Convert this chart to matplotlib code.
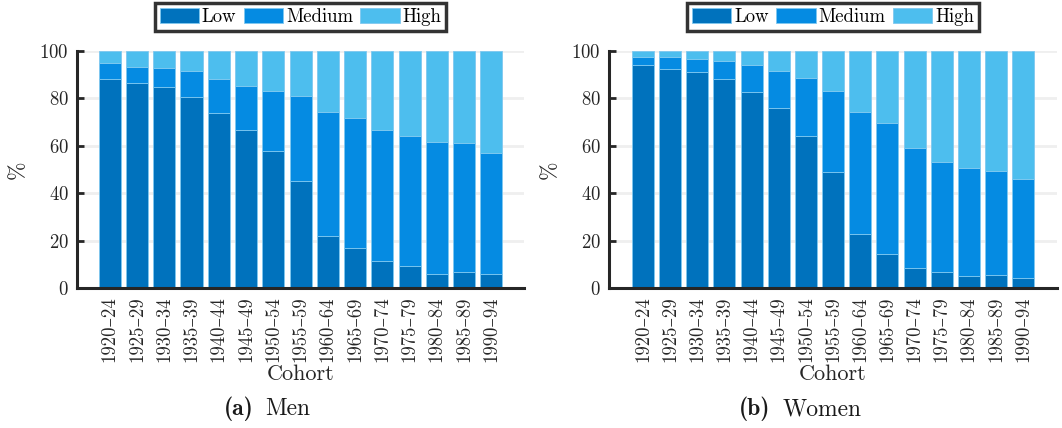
import matplotlib
matplotlib.use('Agg')
import matplotlib.pyplot as plt
import numpy as np

plt.rcParams['font.family'] = ['cmr10', 'DejaVu Serif']
plt.rcParams['mathtext.fontset'] = 'cm'
plt.rcParams['axes.formatter.use_mathtext'] = True

cohorts = ['1920–24', '1925–29', '1930–34', '1935–39', '1940–44', '1945–49', '1950–54',
           '1955–59', '1960–64', '1965–69', '1970–74', '1975–79', '1980–84', '1985–89', '1990–94']

# shares in %, Low / Medium / High
men_low = [88.2, 86.3, 84.8, 80.6, 73.8, 66.6, 57.7, 45.1, 22.1, 16.9, 11.3, 9.3, 5.8, 6.6, 5.8]
men_lowmed = [94.9, 93.1, 92.7, 91.4, 88.3, 85.1, 83.1, 80.8, 74.2, 71.8, 66.6, 64.2, 61.5, 61.0, 56.8]
women_low = [93.9, 92.4, 91.0, 88.3, 82.7, 75.8, 64.1, 49.0, 23.0, 14.5, 8.6, 6.6, 4.9, 5.4, 4.2]
women_lowmed = [97.5, 97.5, 96.5, 95.9, 94.1, 91.5, 88.6, 83.1, 74.2, 69.6, 59.0, 53.0, 50.7, 49.3, 45.9]

levels = ['Low', 'Medium', 'High']
colors = ['#0072BD', '#058BE2', '#4DBEEE']

W, H = 1062, 428
fig = plt.figure(figsize=(W / 100, H / 100), dpi=100)
axes = [fig.add_axes([0.0725, 0.327, 0.421, 0.554]),
        fig.add_axes([0.5734, 0.327, 0.422, 0.554])]
panels = [(men_low, men_lowmed, '(a)', 'Men', -1.2, 267),
          (women_low, women_lowmed, '(b)', 'Women', -1.25, 800)]

renderer = fig.canvas.get_renderer()

for ax, (low, lowmed, tag, name, xl, cx) in zip(axes, panels):
    low = np.array(low)
    med = np.array(lowmed) - low
    high = 100 - np.array(lowmed)
    x = np.arange(len(cohorts))
    bottom = np.zeros(len(cohorts))
    for vals, lab, c in zip([low, med, high], levels, colors):
        ax.bar(x, vals, bottom=bottom, width=0.81, color=c, edgecolor='#7fc8f0',
               linewidth=0.6, label=lab, zorder=3)
        bottom += vals
    ax.set_xlim(xl, len(cohorts) - 1 - xl)
    ax.set_ylim(0, 100)
    ax.set_yticks([0, 20, 40, 60, 80, 100])
    ax.set_xticks(x)
    ax.set_xticklabels(cohorts, rotation=90, fontsize=13.5)
    ax.tick_params(axis='y', direction='in', length=5, width=2, labelsize=13.5,
                   color='#262626', labelcolor='#262626', pad=6)
    ax.tick_params(axis='x', length=0, labelcolor='#262626', pad=6)
    ax.grid(axis='y', color='#efefef', linewidth=2, zorder=0)
    ax.set_axisbelow(True)
    for s in ['top', 'right']:
        ax.spines[s].set_visible(False)
    for s in ['left', 'bottom']:
        ax.spines[s].set_linewidth(2.2)
        ax.spines[s].set_color('#262626')
        ax.spines[s].set_zorder(5)
    ax.set_ylabel('%', fontsize=16, color='#262626', labelpad=8)
    ax.set_xlabel('Cohort', fontsize=16, color='#262626', labelpad=2)
    leg = ax.legend(loc='lower center', bbox_to_anchor=(0.5, 1.085), ncol=3,
                    fontsize=13.5, frameon=True, fancybox=False, borderaxespad=0,
                    handlelength=2.1, handleheight=0.9, handletextpad=0.15,
                    columnspacing=0.4, borderpad=0.25)
    leg.get_frame().set_edgecolor('black')
    leg.get_frame().set_linewidth(2.5)

    # subfigure caption: bold tag + regular name, centred on the subfigure
    t1 = fig.text(0, 0.044, tag, ha='left', va='center', fontsize=17,
                  family='cmb10', color='#1a1a1a')
    t2 = fig.text(0, 0.044, name, ha='left', va='center', fontsize=17,
                  color='#1a1a1a')
    w1 = t1.get_window_extent(renderer).width
    w2 = t2.get_window_extent(renderer).width
    gap = 12
    left = cx - (w1 + gap + w2) / 2
    t1.set_x(left / W)
    t2.set_x((left + w1 + gap) / W)

fig.savefig('out.png', dpi=100)
